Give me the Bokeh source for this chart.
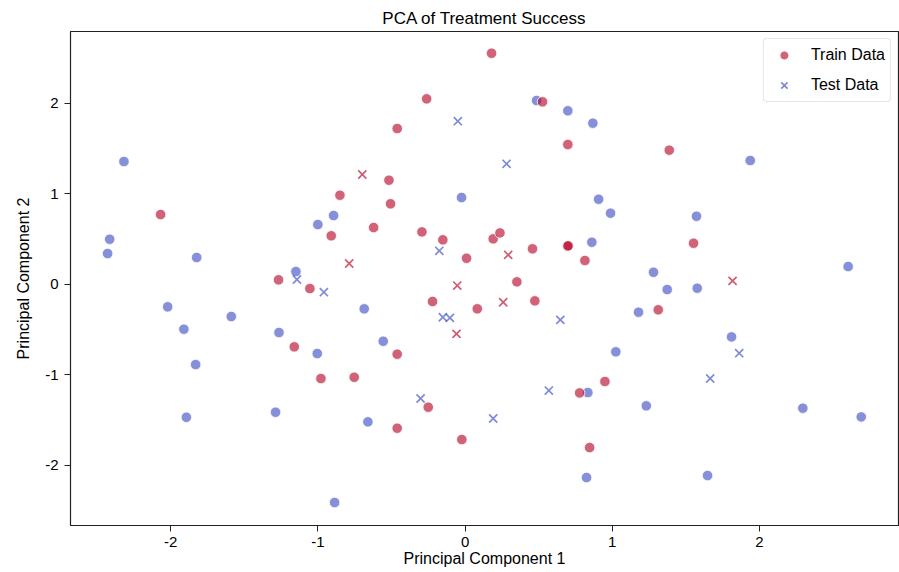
from bokeh.plotting import figure
from bokeh.models import FixedTicker, Legend, LegendItem, Range1d
from bokeh.embed import file_html
from bokeh.resources import INLINE

# ---- data ----
train_pc1 = [-2.317, -2.068, -2.414, -2.428, -1.823, -0.850, -0.893, -1.000, -0.909, -1.149,
             0.180, 0.486, 0.526, 0.698, 0.868, 0.698, -0.261, -0.461, -0.517, -0.506,
             -0.024, 0.907, 0.988, -0.621, -0.293, -0.151, 0.191, 0.237, 0.010, 0.458,
             0.696, 0.700, 0.861, 0.814, 1.387, 1.937, 1.572, 1.552, 1.280, 2.602,
             -1.267, -1.054, -2.020, -1.588, -1.910, -1.264, -1.160, -1.004, -1.830, -0.979,
             -1.893, -1.287, -0.886, 0.352, 0.474, -0.221, 0.083, -0.685, -0.556, -0.461,
             -0.753, 0.778, 0.834, 0.950, -0.250, -0.660, -0.461, -0.022, 0.846, 0.825,
             1.373, 1.577, 1.178, 1.312, 1.810, 1.024, 1.231, 2.294, 2.691, 1.647]
train_pc2 = [1.354, 0.768, 0.495, 0.337, 0.293, 0.981, 0.757, 0.657, 0.533, 0.138,
             2.550, 2.028, 2.013, 1.914, 1.777, 1.541, 2.046, 1.718, 1.147, 0.886,
             0.956, 0.937, 0.783, 0.624, 0.576, 0.488, 0.499, 0.565, 0.285, 0.389,
             0.418, 0.422, 0.462, 0.260, 1.479, 1.365, 0.749, 0.451, 0.130, 0.193,
             0.046, -0.050, -0.252, -0.359, -0.499, -0.536, -0.694, -0.768, -0.890, -1.044,
             -1.472, -1.416, -2.414, 0.024, -0.186, -0.193, -0.274, -0.274, -0.632, -0.775,
             -1.030, -1.203, -1.199, -1.077, -1.361, -1.523, -1.593, -1.718, -1.807, -2.138,
             -0.061, -0.046, -0.311, -0.285, -0.584, -0.749, -1.346, -1.372, -1.468, -2.116]
train_label = [0, 1, 0, 0, 0, 1, 0, 0, 1, 0,
               1, 0, 1, 0, 0, 1, 1, 1, 1, 1,
               0, 0, 0, 1, 1, 1, 1, 1, 1, 1,
               1, 1, 0, 1, 1, 0, 0, 1, 0, 0,
               1, 1, 0, 0, 0, 0, 1, 0, 0, 1,
               0, 0, 0, 1, 1, 1, 1, 0, 0, 1,
               1, 1, 0, 1, 1, 0, 1, 1, 1, 0,
               0, 0, 0, 1, 0, 0, 0, 0, 0, 0]

test_pc1 = [-0.049, 0.282, -0.698, -0.175, 0.293, -0.787, -1.142, -0.959, -0.053, 0.259,
            -0.151, -0.103, -0.058, 0.647, 0.569, -0.302, 0.191, 1.817, 1.862, 1.665]
test_pc2 = [1.799, 1.328, 1.210, 0.367, 0.322, 0.227, 0.050, -0.090, -0.017, -0.201,
            -0.367, -0.374, -0.551, -0.396, -1.177, -1.265, -1.486, 0.035, -0.764, -1.044]
test_label = [0, 0, 1, 0, 1, 1, 0, 0, 1, 1,
              0, 0, 1, 0, 0, 0, 0, 1, 0, 0]

x_ticks = [-2, -1, 0, 1, 2]
y_ticks = [-2, -1, 0, 1, 2]

BLUE = "#3b4cc0"
RED = "#b40426"
FONT = "Liberation Sans"

p = figure(width=899, height=572, output_backend="svg", toolbar_location=None,
           title="PCA of Treatment Success",
           x_range=Range1d(-2.68, 2.944), y_range=Range1d(-2.668, 2.79),
           min_border_left=70, min_border_right=1, min_border_top=31, min_border_bottom=47)

p.title.align = "center"
p.title.text_font = FONT
p.title.text_font_size = "17px"
p.title.text_font_style = "normal"
p.title.text_color = "black"
p.title.standoff = 7

p.xgrid.visible = False
p.ygrid.visible = False
p.outline_line_color = "#222222"
p.outline_line_width = 1.2

for ax, ticks, lab in ((p.xaxis[0], x_ticks, "Principal Component 1"),
                       (p.yaxis[0], y_ticks, "Principal Component 2")):
    ax.ticker = FixedTicker(ticks=ticks)
    ax.major_label_overrides = {t: str(t) for t in ticks}
    ax.axis_label = lab
    ax.axis_label_text_font = FONT
    ax.axis_label_text_font_size = "16px"
    ax.axis_label_text_font_style = "normal"
    ax.axis_label_text_color = "black"
    ax.major_label_text_font = FONT
    ax.major_label_text_font_size = "15px"
    ax.major_label_text_color = "black"
    ax.minor_tick_line_color = None
    ax.major_tick_out = 6
    ax.major_tick_in = 0
    ax.axis_line_color = "#222222"
    ax.major_tick_line_color = "#222222"
    ax.major_label_standoff = 6

p.xaxis[0].major_label_standoff = 5
p.xaxis[0].axis_label_standoff = 0
p.yaxis[0].axis_label_standoff = 10

def split(xs, ys, labels, cls):
    return ([x for x, l in zip(xs, labels) if l == cls],
            [y for y, l in zip(ys, labels) if l == cls])

tr0 = split(train_pc1, train_pc2, train_label, 0)
tr1 = split(train_pc1, train_pc2, train_label, 1)
te0 = split(test_pc1, test_pc2, test_label, 0)
te1 = split(test_pc1, test_pc2, test_label, 1)

r_tr0 = p.scatter(tr0[0], tr0[1], marker="circle", size=10.5, fill_color=BLUE, fill_alpha=0.62,
                  line_color="white", line_width=0.8)
r_tr1 = p.scatter(tr1[0], tr1[1], marker="circle", size=10.5, fill_color=RED, fill_alpha=0.62,
                  line_color="white", line_width=0.8)
r_te0 = p.scatter(te0[0], te0[1], marker="x", size=11.5, line_color=BLUE, line_alpha=0.65,
                  line_width=1.7)
r_te1 = p.scatter(te1[0], te1[1], marker="x", size=11.5, line_color=RED, line_alpha=0.65,
                  line_width=1.7)

legend = Legend(items=[LegendItem(label="Train Data", renderers=[r_tr1]),
                       LegendItem(label="Test Data", renderers=[r_te0])],
                location="top_right")
legend.label_text_font = FONT
legend.label_text_font_size = "16px"
legend.label_text_color = "black"
legend.border_line_color = "#cccccc"
legend.border_line_width = 1
legend.border_radius = 4
legend.background_fill_alpha = 0.85
legend.margin = 7
legend.padding = 5
legend.spacing = 8
legend.label_standoff = 12
legend.glyph_width = 30
legend.glyph_height = 22
legend.label_height = 22
p.add_layout(legend)

open("out.html", "w").write(file_html(p, INLINE))
